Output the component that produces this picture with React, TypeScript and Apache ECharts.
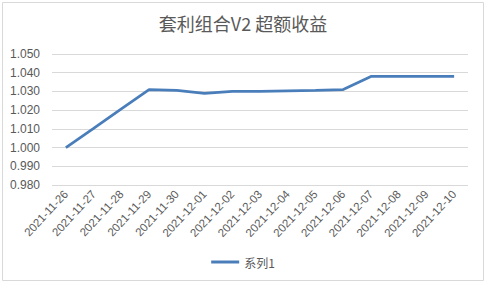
import React, { useEffect, useRef } from "react";
import * as echarts from "echarts";

const categories = [
  "2021-11-26", "2021-11-27", "2021-11-28", "2021-11-29", "2021-11-30",
  "2021-12-01", "2021-12-02", "2021-12-03", "2021-12-04", "2021-12-05",
  "2021-12-06", "2021-12-07", "2021-12-08", "2021-12-09", "2021-12-10",
];
const series1 = [
  1.0, 1.0103, 1.0207, 1.031, 1.0305,
  1.029, 1.030, 1.030, 1.0303, 1.0305,
  1.031, 1.038, 1.038, 1.038, 1.038,
];
const seriesName = "系列1";
const title = "套利组合V2 超额收益";
const yMin = 0.98;
const yMax = 1.05;
const yStep = 0.01;

export default function App() {
  const ref = useRef<HTMLDivElement>(null);
  useEffect(() => {
    if (!ref.current) return;
    const chart = echarts.init(ref.current, null, { renderer: "svg" });
    const font = "'Liberation Sans', 'Noto Sans CJK SC', sans-serif";
    chart.setOption({
      animation: false,
      backgroundColor: "#ffffff",
      graphic: [
        {
          type: "rect",
          shape: { x: 2.5, y: 2.5, width: 481, height: 278 },
          style: { fill: "none", stroke: "#d9d9d9", lineWidth: 1 },
          silent: true,
        },
      ],
      title: {
        text: title,
        left: "center",
        top: 9,
        textStyle: {
          color: "#595959",
          fontSize: 18,
          fontWeight: "normal",
          fontFamily: "'Noto Sans CJK SC', sans-serif",
        },
      },
      legend: {
        bottom: 12,
        left: "center",
        itemWidth: 28,
        itemHeight: 3,
        itemGap: 4,
        icon: "rect",
        textStyle: { color: "#595959", fontSize: 12, fontFamily: "'Noto Sans CJK SC', sans-serif" },
        data: [seriesName],
      },
      grid: { left: 52, right: 18, top: 54, bottom: 100, containLabel: false },
      xAxis: {
        type: "category",
        data: categories,
        boundaryGap: true,
        axisLine: { show: false },
        axisTick: { show: false },
        axisLabel: {
          rotate: 47,
          interval: 0,
          color: "#595959",
          fontSize: 11.5,
          fontFamily: font,
          margin: 7,
        },
      },
      yAxis: {
        type: "value",
        min: yMin,
        max: yMax,
        interval: yStep,
        axisLine: { show: false },
        axisTick: { show: false },
        splitLine: { lineStyle: { color: "#d9d9d9", width: 1 } },
        axisLabel: {
          color: "#595959",
          fontSize: 12,
          fontFamily: font,
          margin: 12,
          formatter: (v: number) => v.toFixed(3),
        },
      },
      series: [
        {
          name: seriesName,
          type: "line",
          data: series1,
          symbol: "none",
          lineStyle: { color: "#4a7ebb", width: 2.75 },
          itemStyle: { color: "#4a7ebb" },
        },
      ],
    });
    return () => chart.dispose();
  }, []);
  return (
    <div
      ref={ref}
      style={{ position: "absolute", left: 0, top: 0, width: 486, height: 285 }}
    />
  );
}
